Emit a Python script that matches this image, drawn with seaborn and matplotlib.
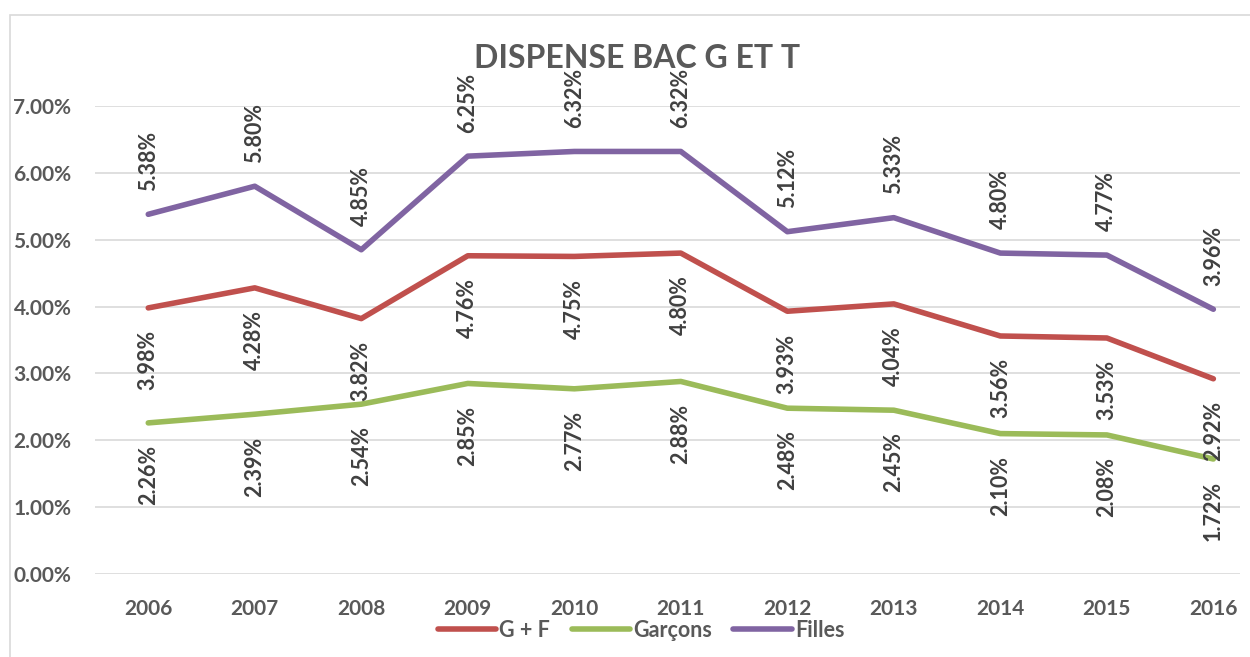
import matplotlib
matplotlib.use("Agg")
import matplotlib.pyplot as plt
import matplotlib.patches as mpatches
import pandas as pd
import seaborn as sns

years = [2006, 2007, 2008, 2009, 2010, 2011, 2012, 2013, 2014, 2015, 2016]
g_f = [3.98, 4.28, 3.82, 4.76, 4.75, 4.80, 3.93, 4.04, 3.56, 3.53, 2.92]
garcons = [2.26, 2.39, 2.54, 2.85, 2.77, 2.88, 2.48, 2.45, 2.10, 2.08, 1.72]
filles = [5.38, 5.80, 4.85, 6.25, 6.32, 6.32, 5.12, 5.33, 4.80, 4.77, 3.96]
series_names = ["G + F", "Garçons", "Filles"]
colors = ["#C0504D", "#9BBB59", "#8064A2"]

sns.set_style("white")
plt.rcParams['font.family'] = ['Lato', 'DejaVu Sans']
txt = "#595959"

rows = []
for name, vals in zip(series_names, [g_f, garcons, filles]):
    for i, v in enumerate(vals):
        rows.append({"pos": i, "year": years[i], "value": v, "serie": name})
df = pd.DataFrame(rows)

fig = plt.figure(figsize=(12.5, 6.57), dpi=100)
fig.patches.append(mpatches.Rectangle((10 / 1250, -0.01), 1.1, (657 - 15) / 657 + 0.01,
                                      transform=fig.transFigure, fill=False,
                                      edgecolor="#D9D9D9", linewidth=1.2))
ax = fig.add_axes([95 / 1250, 83 / 657, 1145 / 1250, 468 / 657])

sns.lineplot(data=df, x="pos", y="value", hue="serie", hue_order=series_names,
             palette=colors, linewidth=4, ax=ax, legend=True,
             solid_capstyle="round")

ax.set_xlim(-0.5, 10.25)
ax.set_ylim(0, 7)
ax.set_yticks(range(0, 8))
ax.set_yticklabels([f"{t:.2f}%" for t in range(0, 8)], fontsize=15,
                   fontweight="bold", color=txt)
ax.set_xticks(range(len(years)))
ax.set_xticklabels([str(y) for y in years], fontsize=15, fontweight="bold",
                   color=txt)
ax.tick_params(axis="x", length=0, pad=18)
ax.tick_params(axis="y", length=0, pad=17)
ax.grid(axis="y", color="#D9D9D9", linewidth=1.2)
for s in ax.spines.values():
    s.set_visible(False)
ax.set_xlabel("")
ax.set_ylabel("")

# data labels: Filles above, others below
for name, vals in zip(series_names, [g_f, garcons, filles]):
    for i, v in enumerate(vals):
        if name == "Filles":
            ax.annotate(f"{v:.2f}%", (i, v), xytext=(0, 17), textcoords="offset points",
                        rotation=90, ha="center", va="bottom", fontsize=15.5,
                        fontweight="bold", color="#404040")
        else:
            ax.annotate(f"{v:.2f}%", (i, v), xytext=(0, -16), textcoords="offset points",
                        rotation=90, ha="center", va="top", fontsize=15.5,
                        fontweight="bold", color="#404040")

fig.text(637 / 1250, 1 - 58 / 657, "DISPENSE BAC G ET T", ha="center", va="center",
         fontsize=23, fontweight="bold", color=txt)

leg = ax.legend(loc="center", bbox_to_anchor=(0.477, -0.12), ncol=3, frameon=False,
                fontsize=15.5, handlelength=2.7, columnspacing=1.0, handletextpad=0.15)
for t in leg.get_texts():
    t.set_color(txt)
    t.set_fontweight("bold")
for h in leg.get_lines():
    h.set_linewidth(4)

fig.savefig("out.png", dpi=100)
